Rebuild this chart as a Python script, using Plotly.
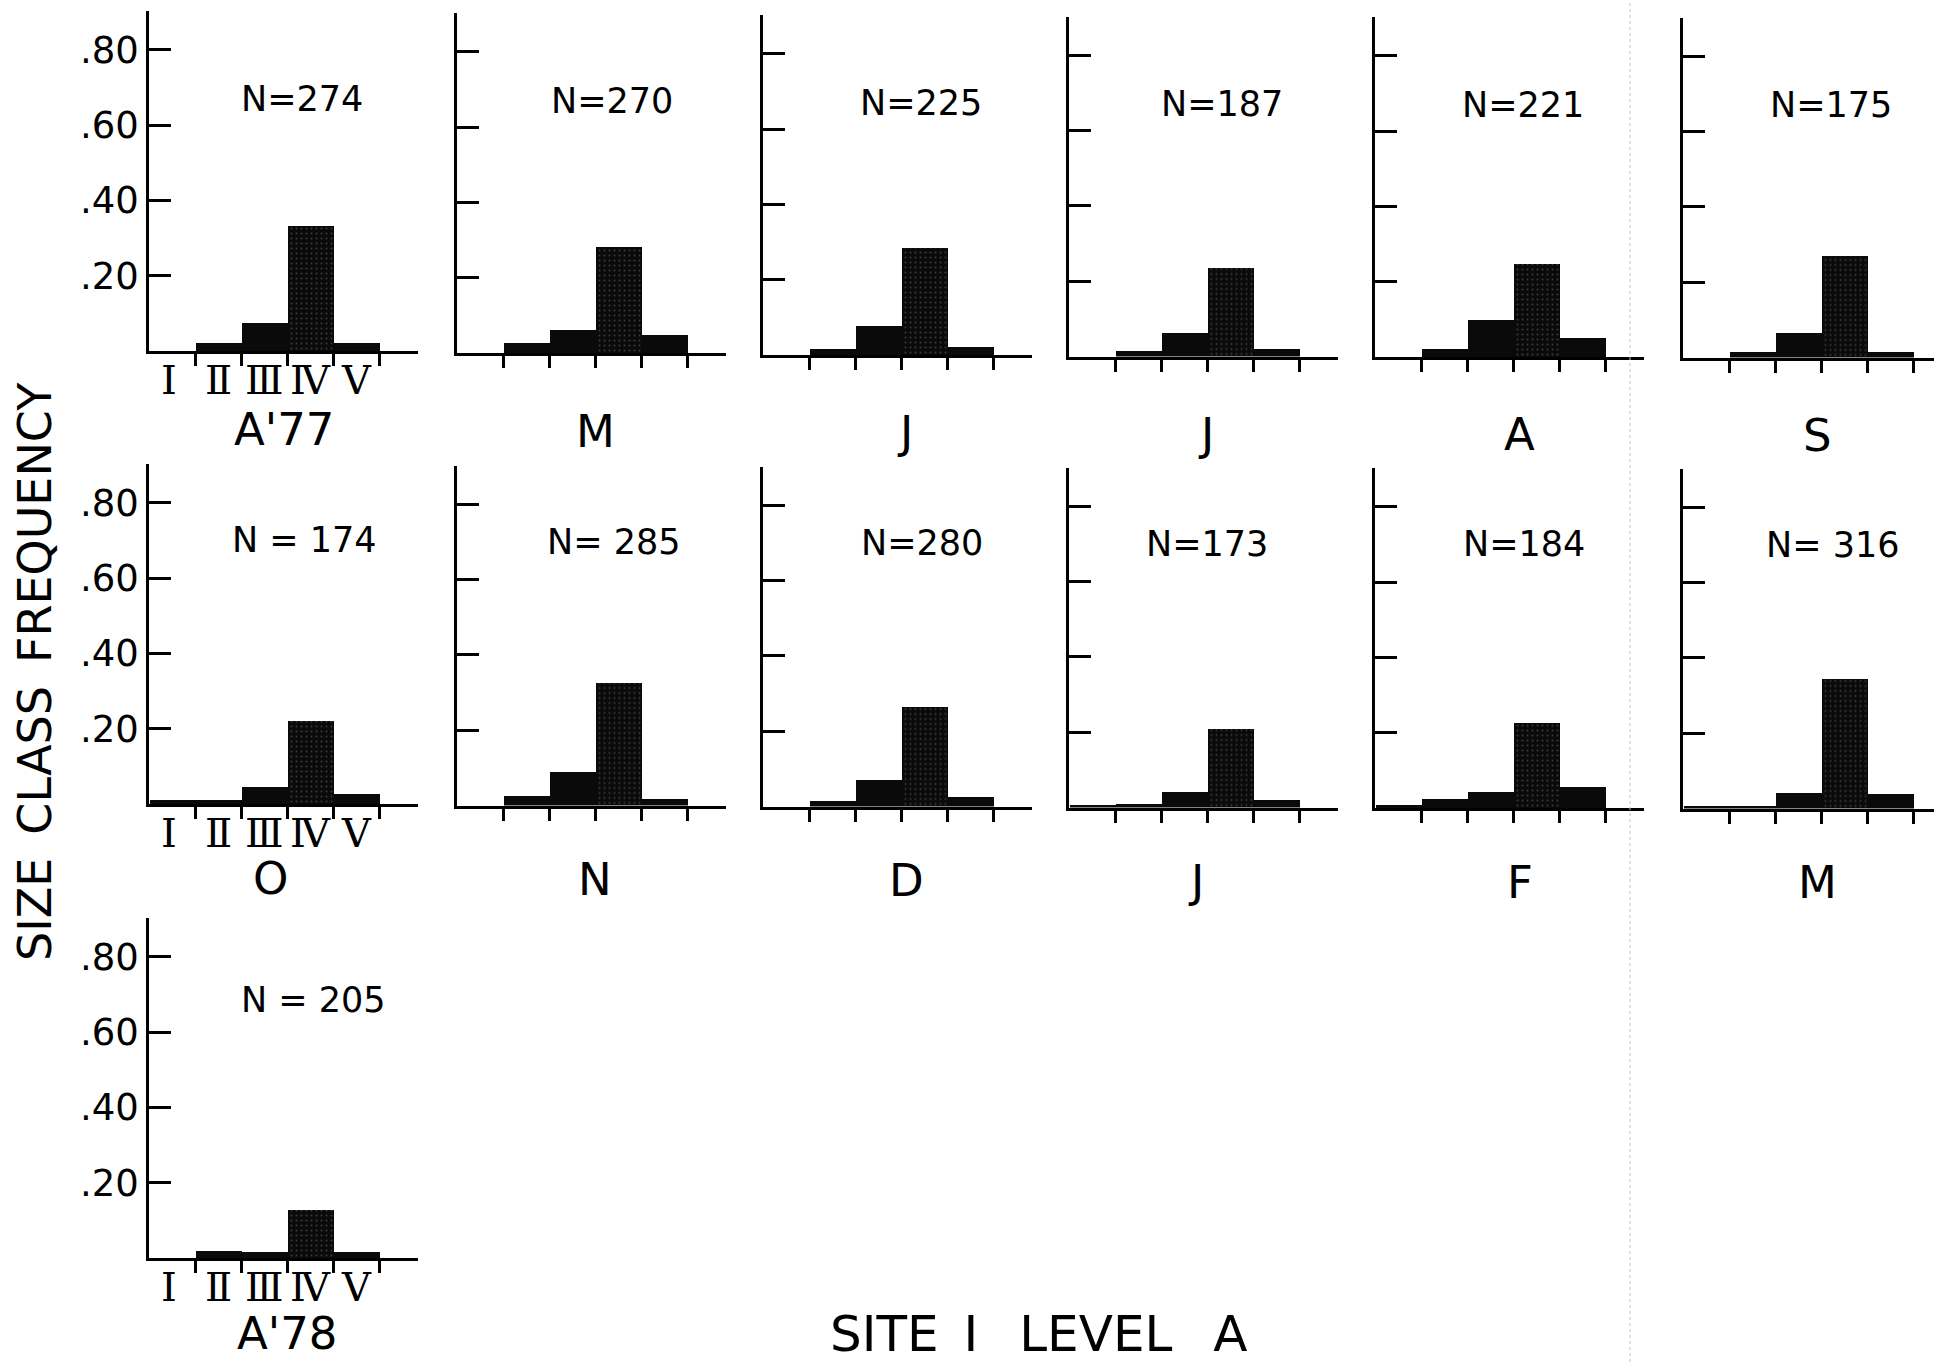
import plotly.graph_objects as go

# ---- data -------------------------------------------------------------
months = ["A'77", "M", "J", "J", "A", "S", "O", "N", "D", "J", "F", "M", "A'78"]
sample_sizes = [274, 270, 225, 187, 221, 175, 174, 285, 280, 173, 184, 316, 205]
n_separators = ["=", "=", "=", "=", "=", "=", " = ", "= ", "=", "=", "=", "= ", " = "]
size_classes = ["Ⅰ", "Ⅱ", "Ⅲ", "Ⅳ", "Ⅴ"]

# relative frequency of each size class, one value per monthly sample
freq_I = [0.0, 0.0, 0.0, 0.0, 0.0, 0.0, 0.010, 0.0, 0.0, 0.008, 0.008, 0.008, 0.0]
freq_II = [0.022, 0.027, 0.016, 0.016, 0.022, 0.015, 0.010, 0.027, 0.016, 0.010, 0.025, 0.008, 0.019]
freq_III = [0.075, 0.060, 0.077, 0.064, 0.099, 0.066, 0.044, 0.089, 0.071, 0.042, 0.042, 0.042, 0.016]
freq_IV = [0.331, 0.282, 0.283, 0.236, 0.247, 0.272, 0.220, 0.327, 0.266, 0.210, 0.226, 0.345, 0.127]
freq_V = [0.022, 0.047, 0.020, 0.020, 0.050, 0.015, 0.027, 0.019, 0.027, 0.020, 0.056, 0.040, 0.016]

freq_tick_vals = [0.2, 0.4, 0.6, 0.8]
freq_tick_text = [".20", ".40", ".60", ".80"]

# ---- layout geometry (pixels) -----------------------------------------
FIG_W, FIG_H = 1936, 1362
col_left = [149, 457, 763, 1069, 1375, 1683]
row_base = [[351, 353, 355, 356.5, 357, 357.5],
            [804, 805.5, 806.5, 807.5, 808, 808.5],
            [1258]]
row_n_y = [0.67, 0.70, 0.685]
row_month_gap = [78, 74, 75]
PX_PER_CLASS = 46.0
PX_PER_UNIT = 376.5
AXIS_W = 269
AXIS_H = 340
X_START = -0.52
class_edges = [0.5, 1.5, 2.5, 3.5, 4.5]

month_x = [2.42, 2.49, 2.56, 2.45, 2.62, 2.40, 2.13, 2.49, 2.60, 2.25, 2.64, 2.40, 2.48]
n_x = [2.80, 2.84, 2.91, 2.80, 2.69, 2.70, 2.86, 2.88, 2.93, 2.47, 2.71, 2.73, 3.06]

SANS = "DejaVu Sans"
SERIF = "DejaVu Serif"
EN = "\u2002"

panels = [(0, c) for c in range(6)] + [(1, c) for c in range(6)] + [(2, 0)]

fig = go.Figure()
annotations = []
layout_axes = {}

for k, (r, c) in enumerate(panels):
    sfx = "" if k == 0 else str(k + 1)
    left = col_left[c]
    right = min(left + AXIS_W, FIG_W - 2)
    base = row_base[r][c]
    top = base - AXIS_H

    values = [freq_I[k], freq_II[k], freq_III[k], freq_IV[k], freq_V[k]]
    fig.add_trace(go.Bar(
        x=[0, 1, 2, 3, 4], y=values, width=1.0,
        marker=dict(
            color="#0a0a0a", line=dict(width=0),
            pattern=dict(shape=["", "", "", ".", ""], fgcolor="#6a6a6a",
                         size=5, solidity=0.12, fillmode="overlay"),
        ),
        xaxis="x" + sfx, yaxis="y" + sfx, showlegend=False, hoverinfo="skip",
    ))

    layout_axes["xaxis" + sfx] = dict(
        domain=[left / FIG_W, right / FIG_W],
        range=[X_START, X_START + (right - left) / PX_PER_CLASS],
        anchor="y" + sfx, showline=True, linecolor="black", linewidth=3,
        ticks="outside", tickvals=class_edges, ticklen=12, tickwidth=2.5,
        tickcolor="black", showticklabels=False, showgrid=False, zeroline=False,
        fixedrange=True,
    )
    layout_axes["yaxis" + sfx] = dict(
        domain=[1 - base / FIG_H, 1 - top / FIG_H],
        range=[0, AXIS_H / PX_PER_UNIT],
        anchor="x" + sfx, showline=True, linecolor="black", linewidth=2.5,
        ticks="inside", tickvals=freq_tick_vals, ticktext=freq_tick_text,
        ticklen=22, tickwidth=3, tickcolor="black",
        showticklabels=(c == 0), ticklabelstandoff=0,
        tickfont=dict(family=SANS, size=37, color="black"),
        showgrid=False, zeroline=False, fixedrange=True,
    )

    # sample size
    annotations.append(dict(
        x=n_x[k], y=row_n_y[r], xref="x" + sfx, yref="y" + sfx,
        text=f"N{n_separators[k]}{sample_sizes[k]}", showarrow=False,
        font=dict(family=SANS, size=35, color="black"),
        xanchor="center", yanchor="middle",
    ))
    # month label
    annotations.append(dict(
        x=month_x[k], y=1 - (base + row_month_gap[r]) / FIG_H,
        xref="x" + sfx, yref="paper",
        text=months[k], showarrow=False,
        font=dict(family=SANS, size=45, color="black"),
        xanchor="center", yanchor="middle",
    ))
    # size-class numerals under the first column
    if c == 0:
        for i, lab in enumerate(size_classes):
            annotations.append(dict(
                x=i - (0.08 if i == 0 else 0), y=1 - (base + 29) / FIG_H,
                xref="x" + sfx, yref="paper",
                text=lab, showarrow=False,
                font=dict(family=SERIF, size=40, color="black"),
                xanchor="center", yanchor="middle",
            ))

annotations.append(dict(
    x=35 / FIG_W, y=1 - 672 / FIG_H, xref="paper", yref="paper",
    text=f"SIZE{EN}CLASS{EN}FREQUENCY", textangle=-90, showarrow=False,
    font=dict(family=SANS, size=46, color="black"),
    xanchor="center", yanchor="middle",
))
annotations.append(dict(
    x=1038 / FIG_W, y=1 - 1334 / FIG_H, xref="paper", yref="paper",
    text=f"SITE{EN}I{EN} LEVEL{EN} A", showarrow=False,
    font=dict(family=SANS, size=50, color="black"),
    xanchor="center", yanchor="middle",
))

fig.update_layout(
    width=FIG_W, height=FIG_H, autosize=False,
    margin=dict(l=0, r=0, t=0, b=0, pad=0),
    paper_bgcolor="white", plot_bgcolor="white",
    bargap=0, showlegend=False,
    annotations=annotations,
    shapes=[dict(type="line", xref="paper", yref="paper",
                 x0=1630 / FIG_W, x1=1630 / FIG_W, y0=0, y1=1,
                 line=dict(color="#c4c4c4", width=1, dash="dot"))],
    **layout_axes,
)

fig.write_html("out.html")
